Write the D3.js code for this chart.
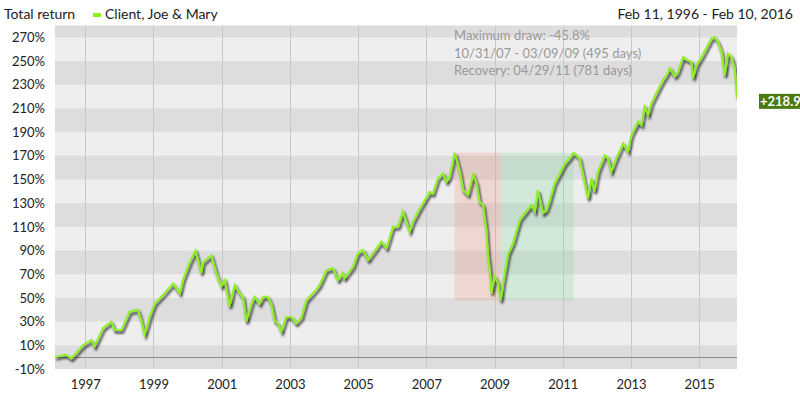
<!DOCTYPE html>
<html>
<head>
  <meta charset="UTF-8">
  <title>Total return</title>
  <script src="https://d3js.org/d3.v7.min.js"></script>
  <style>
    body { margin: 0; background: #fff; }
    text { font-family: Lato, "Open Sans", sans-serif; }
  </style>
</head>
<body>
  <svg width="800" height="400"></svg>

  <script>
    // decimal years and total return (%)
    const years = [
      1996.11, 1996.31, 1996.43, 1996.59, 1996.75, 1996.93, 1997.18, 1997.27, 1997.52, 1997.76,
      1997.86, 1998.06, 1998.30, 1998.54, 1998.64, 1998.74, 1998.89, 1999.03, 1999.33, 1999.57,
      1999.77, 1999.86, 2000.06, 2000.23, 2000.40, 2000.45, 2000.69, 2000.84, 2000.99, 2001.09,
      2001.23, 2001.38, 2001.52, 2001.62, 2001.72, 2001.87, 2001.96, 2002.11, 2002.21, 2002.35,
      2002.45, 2002.55, 2002.65, 2002.75, 2002.89, 2003.04, 2003.18, 2003.33, 2003.48, 2003.77,
      2003.87, 2004.07, 2004.26, 2004.41, 2004.55, 2004.60, 2004.85, 2004.99, 2005.14, 2005.29,
      2005.43, 2005.68, 2005.83, 2006.02, 2006.17, 2006.31, 2006.41, 2006.51, 2006.61, 2006.80,
      2007.10, 2007.19, 2007.34, 2007.49, 2007.59, 2007.68, 2007.83, 2007.92, 2007.98, 2008.08,
      2008.22, 2008.37, 2008.47, 2008.56, 2008.66, 2008.76, 2008.81, 2008.86, 2008.91, 2009.00,
      2009.10, 2009.18, 2009.25, 2009.40, 2009.54, 2009.74, 2009.93, 2010.08, 2010.18, 2010.27,
      2010.42, 2010.52, 2010.62, 2010.76, 2010.86, 2011.06, 2011.20, 2011.32, 2011.49, 2011.64,
      2011.74, 2011.84, 2011.93, 2012.03, 2012.23, 2012.32, 2012.42, 2012.57, 2012.77, 2012.91,
      2013.01, 2013.21, 2013.31, 2013.40, 2013.50, 2013.60, 2013.79, 2013.94, 2014.04, 2014.14,
      2014.29, 2014.38, 2014.53, 2014.63, 2014.77, 2014.82, 2014.92, 2015.07, 2015.21, 2015.36,
      2015.45, 2015.55, 2015.65, 2015.75, 2015.84, 2015.94, 2016.04, 2016.11
    ];
    const totalReturn = [
      0, 1.5, 2, -1, 4, 10, 14.5, 9, 24.5, 30,
      23, 23, 38.5, 40, 31, 19, 34, 45, 54, 62,
      54, 65, 80, 90, 71, 80, 86, 71, 60, 65,
      43, 61, 54, 51, 30, 45, 51, 45, 51, 51,
      45, 31, 28.5, 21.5, 34, 34, 28.5, 33, 48, 57,
      61, 73.5, 75, 65, 71, 66.5, 76.5, 87.5, 90.5, 82,
      87.5, 97.5, 92, 110, 110, 123, 114.5, 106, 114.5, 125,
      139.5, 138, 151, 155, 148, 152, 172.5, 163.5, 156.5, 141,
      137, 154, 147, 131, 128.5, 107, 85, 73.5, 54, 68,
      62.5, 47.8, 62.5, 87.5, 96, 116, 123, 128.5, 123, 141,
      121.5, 124, 132.5, 147, 152, 163.5, 168, 172.6, 168, 148,
      134, 151, 140, 156.5, 170.5, 168, 156.5, 168, 180.5, 173.5,
      187.5, 199, 196, 211.5, 204.5, 214.5, 225.5, 234, 238, 244,
      237, 241, 253.5, 251, 249.5, 235.5, 246.5, 253.5, 261, 269,
      270.5, 266, 258, 238, 256.5, 253.5, 244, 218.9
    ];
    const yearTicks = [1997, 1999, 2001, 2003, 2005, 2007, 2009, 2011, 2013, 2015];
    const returnTicks = [-10, 10, 30, 50, 70, 90, 110, 130, 150, 170, 190, 210, 230, 250, 270];
    const startYear = 1996.112, endYear = 2016.109;
    // drawdown: peak 10/31/07, trough 03/09/09, recovery 04/29/11
    const drawPeak = 2007.830, drawTrough = 2009.184, drawRecovery = 2011.323;
    const peakValue = 172.6, troughValue = 47.8;
    const annotation = ["Maximum draw: -45.8%", "10/31/07 - 03/09/09 (495 days)", "Recovery: 04/29/11 (781 days)"];
    const lastValue = 218.9;

    const svg = d3.select("svg");
    const plotLeft = 55, plotRight = 737, plotTop = 25.5, plotBottom = 369;

    const x = d3.scaleLinear().domain([startYear, endYear]).range([plotLeft, plotRight]);
    const y = d3.scaleLinear().domain([-10, 280]).range([plotBottom, plotTop]);

    const defs = svg.append("defs");
    defs.append("clipPath").attr("id", "plot")
      .append("rect").attr("x", plotLeft).attr("y", plotTop)
      .attr("width", plotRight - plotLeft).attr("height", plotBottom - plotTop);
    defs.append("filter").attr("id", "shadow")
      .attr("x", "-5%").attr("y", "-5%").attr("width", "110%").attr("height", "110%")
      .append("feDropShadow")
      .attr("dx", 1.5).attr("dy", 2.5).attr("stdDeviation", 1)
      .attr("flood-color", "#111").attr("flood-opacity", 0.9);

    const plot = svg.append("g").attr("clip-path", "url(#plot)");

    plot.append("rect")
      .attr("x", plotLeft).attr("y", plotTop)
      .attr("width", plotRight - plotLeft).attr("height", plotBottom - plotTop)
      .attr("fill", "#eeeeee");

    // alternating 20% bands
    plot.append("g").selectAll("rect")
      .data(d3.range(-10, 280, 40))
      .join("rect")
      .attr("x", plotLeft)
      .attr("width", plotRight - plotLeft)
      .attr("y", d => y(d + 20))
      .attr("height", d => y(d) - y(d + 20))
      .attr("fill", "#dddddd");

    plot.append("g").selectAll("line")
      .data(yearTicks)
      .join("line")
      .attr("x1", d => Math.round(x(d)) + 0.5)
      .attr("x2", d => Math.round(x(d)) + 0.5)
      .attr("y1", plotTop).attr("y2", plotBottom)
      .attr("stroke", "#c8c8c8").attr("stroke-width", 1);

    plot.append("line")
      .attr("x1", plotLeft).attr("x2", plotRight)
      .attr("y1", Math.round(y(0)) + 0.5).attr("y2", Math.round(y(0)) + 0.5)
      .attr("stroke", "#8a8a8a").attr("stroke-width", 1);

    // drawdown and recovery periods
    plot.append("rect")
      .attr("x", x(drawPeak)).attr("width", x(drawTrough) - x(drawPeak))
      .attr("y", y(peakValue)).attr("height", y(troughValue) - y(peakValue))
      .attr("fill", "#f08a6a").attr("fill-opacity", 0.22);
    plot.append("rect")
      .attr("x", x(drawTrough)).attr("width", x(drawRecovery) - x(drawTrough))
      .attr("y", y(peakValue)).attr("height", y(troughValue) - y(peakValue))
      .attr("fill", "#70d890").attr("fill-opacity", 0.22);

    svg.append("g")
      .attr("fill", "#999")
      .attr("font-size", 13)
      .selectAll("text")
      .data(annotation)
      .join("text")
      .attr("x", 454)
      .attr("y", (d, i) => 40 + i * 17.5)
      .text(d => d);

    const line = d3.line()
      .x((d, i) => x(years[i]))
      .y(d => y(d));

    plot.append("path")
      .datum(totalReturn)
      .attr("d", line)
      .attr("fill", "none")
      .attr("stroke", "#8cf020")
      .attr("stroke-width", 2)
      .attr("stroke-linejoin", "miter")
      .attr("filter", "url(#shadow)");

    // axes
    const yAxis = svg.append("g")
      .attr("transform", `translate(${plotLeft - 10},0)`)
      .call(d3.axisLeft(y).tickValues(returnTicks).tickSize(0).tickPadding(0).tickFormat(d => d + "%"));
    yAxis.select(".domain").remove();
    yAxis.selectAll("text").attr("font-size", 13).attr("fill", "#222").attr("font-family", null);

    const xAxis = svg.append("g")
      .attr("transform", `translate(0,${plotBottom})`)
      .call(d3.axisBottom(x).tickValues(yearTicks).tickSize(0).tickPadding(11).tickFormat(d3.format("d")));
    xAxis.select(".domain").remove();
    xAxis.selectAll("text").attr("font-size", 13).attr("fill", "#222").attr("font-family", null);

    // header
    svg.append("text").attr("x", 4).attr("y", 19)
      .attr("font-size", 14).attr("fill", "#222").text("Total return");
    svg.append("rect").attr("x", 93).attr("y", 13).attr("width", 8).attr("height", 4).attr("fill", "#8cf020");
    svg.append("text").attr("x", 105).attr("y", 19)
      .attr("font-size", 14).attr("fill", "#222").text("Client, Joe & Mary");
    svg.append("text").attr("x", 793).attr("y", 19).attr("text-anchor", "end")
      .attr("font-size", 14).attr("fill", "#222").text("Feb 11, 1996 - Feb 10, 2016");

    // last value flag
    const flag = svg.append("g").attr("transform", `translate(759,${y(lastValue) + 4})`);
    flag.append("rect").attr("x", 0).attr("y", -8).attr("width", 41).attr("height", 15).attr("fill", "#4a7a12");
    flag.append("text").attr("x", 1).attr("y", 4).attr("font-size", 13).attr("font-weight", "bold")
      .attr("fill", "#fff").text("+" + lastValue);
  </script>
</body>
</html>
